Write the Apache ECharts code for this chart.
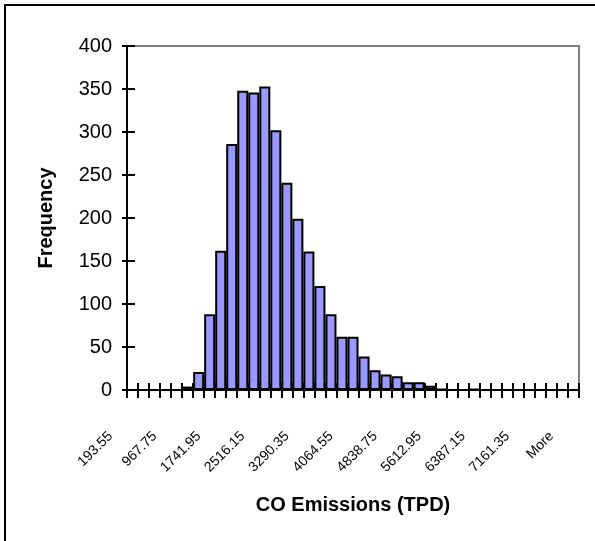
<!DOCTYPE html>
<html>
<head>
<meta charset="utf-8">
<script src="https://cdn.jsdelivr.net/npm/echarts@6/dist/echarts.min.js"></script>
<style>
html,body{margin:0;padding:0;background:#fff;}
#chart{width:595px;height:541px;}
</style>
</head>
<body>
<div id="chart"></div>
<script>
// Bin labels (upper bin edges) + "More"
const categories = ['193.55','387.1','580.65','774.2','967.75','1161.3','1354.85','1548.4','1741.95','1935.5',
  '2129.05','2322.6','2516.15','2709.7','2903.25','3096.8','3290.35','3483.9','3677.45','3871',
  '4064.55','4258.1','4451.65','4645.2','4838.75','5032.3','5225.85','5419.4','5612.95','5806.5',
  '6000.05','6193.6','6387.15','6580.7','6774.25','6967.8','7161.35','7354.9','7548.45','7742','More'];
// Frequency per bin
const frequency = [0,0,0,0,0,4,21,88,162,286,
  348,346,353,302,241,199,161,121,88,62,
  62,39,23,18,16,9,9,5,1,0,
  0,1,0,0,0,0,0,0,0,0,0];
const yTicks = {min:0, max:400, interval:50};

const chart = echarts.init(document.getElementById('chart'), null, {renderer:'canvas'});
const font = 'Liberation Sans, Arial, sans-serif';
chart.setOption({
  animation:false,
  textStyle:{fontFamily:font},
  graphic:[{type:'rect', shape:{x:5,y:5,width:620,height:620}, style:{fill:'none',stroke:'#000',lineWidth:2}, silent:true, z:100}],
  grid:{left:127,right:16,top:46,bottom:151,show:true,borderColor:'#808080',borderWidth:2,backgroundColor:'transparent'},
  xAxis:[{
    type:'category', data:categories, position:'bottom',
    name:'CO Emissions (TPD)', nameLocation:'middle', nameGap:105,
    nameTextStyle:{fontSize:20,fontWeight:'bold',color:'#000',fontFamily:font},
    axisLine:{show:true,lineStyle:{color:'#000',width:2}},
    axisTick:{show:true,interval:0,length:8,lineStyle:{color:'#000',width:2}},
    axisLabel:{show:true,interval:3,rotate:45,margin:22,padding:[0,31,0,0],fontSize:14,color:'#000',fontFamily:font}
  },{
    type:'category', data:categories, position:'bottom',
    axisLine:{show:true,lineStyle:{color:'#000',width:2}},
    axisTick:{show:true,interval:0,inside:true,length:7,lineStyle:{color:'#000',width:2}},
    axisLabel:{show:false}
  }],
  yAxis:[{
    type:'value', position:'left', min:yTicks.min, max:yTicks.max, interval:yTicks.interval,
    name:'Frequency', nameLocation:'middle', nameGap:71,
    nameTextStyle:{fontSize:20,fontWeight:'bold',color:'#000',fontFamily:font},
    axisLine:{show:true,lineStyle:{color:'#000',width:2}},
    axisTick:{show:true,length:5,lineStyle:{color:'#000',width:2}},
    axisLabel:{fontSize:20,color:'#000',margin:15,fontFamily:font},
    splitLine:{show:false}
  },{
    type:'value', position:'left', min:yTicks.min, max:yTicks.max, interval:yTicks.interval,
    axisLine:{show:true,lineStyle:{color:'#000',width:2}},
    axisTick:{show:true,inside:true,length:8,lineStyle:{color:'#000',width:2}},
    axisLabel:{show:false}, splitLine:{show:false}
  }],
  series:[{
    type:'bar', data:frequency, xAxisIndex:0, yAxisIndex:0,
    barCategoryGap:'0%',
    itemStyle:{color:'#9999ff',borderColor:'#000',borderWidth:2},
    z:1
  }]
});
</script>
</body>
</html>
